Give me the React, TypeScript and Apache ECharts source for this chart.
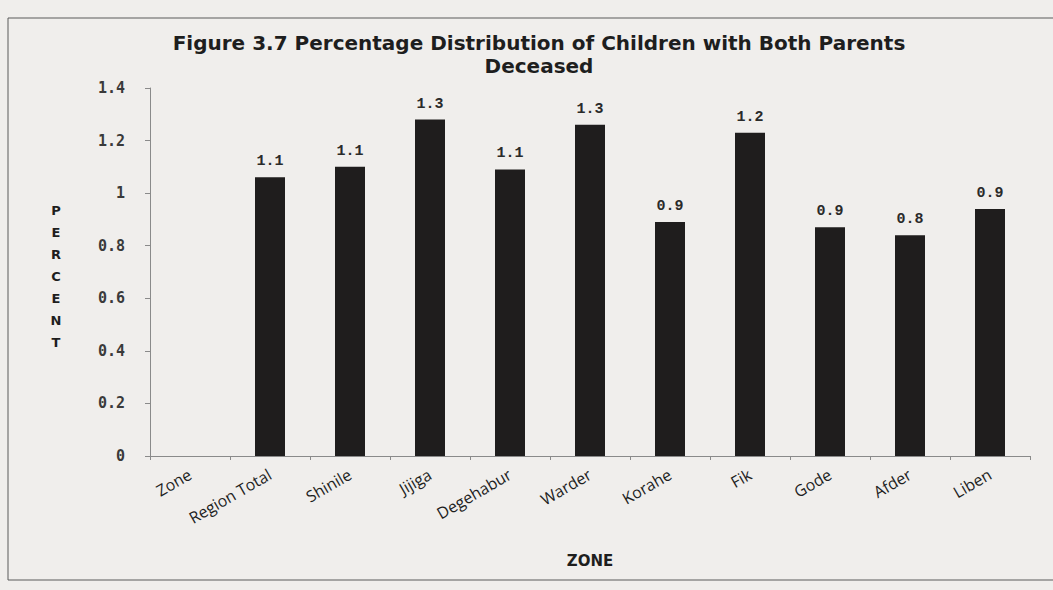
import React, { useEffect, useRef } from "react";
import * as echarts from "echarts";

const categories = ["Zone", "Region Total", "Shinile", "Jijiga", "Degehabur", "Warder", "Korahe", "Fik", "Gode", "Afder", "Liben"];
const percentValues: (number | null)[] = [null, 1.06, 1.1, 1.28, 1.09, 1.26, 0.89, 1.23, 0.87, 0.84, 0.94];
const titleLines = ["Figure 3.7 Percentage Distribution of Children with Both Parents", "Deceased"];
const yAxisTitle = "PERCENT";
const xAxisTitle = "ZONE";

export default function App() {
  const ref = useRef<HTMLDivElement>(null);
  useEffect(() => {
    if (!ref.current) return;
    const chart = echarts.init(ref.current, null, { renderer: "svg" });
    chart.setOption({
      animation: false,
      backgroundColor: "#f0eeec",
      title: {
        text: titleLines.join("\n"),
        left: 534,
        top: 26,
        textAlign: "center",
        textStyle: {
          fontFamily: "DejaVu Sans",
          fontWeight: "bold",
          fontSize: 20,
          lineHeight: 23,
          color: "#1e1e1e",
        },
      },
      grid: { left: 150, right: 23, top: 88, bottom: 134 },
      xAxis: {
        type: "category",
        data: categories,
        name: xAxisTitle,
        nameLocation: "middle",
        nameGap: 97,
        nameTextStyle: { fontFamily: "DejaVu Sans", fontWeight: "bold", fontSize: 15, color: "#1e1e1e" },
        axisLine: { lineStyle: { color: "#8a8a8a", width: 1 } },
        axisTick: { show: true, length: 4, lineStyle: { color: "#8a8a8a" } },
        axisLabel: {
          rotate: 30,
          margin: 17,
          fontFamily: "Open Sans",
          fontSize: 16,
          color: "#1e1e1e",
        },
      },
      yAxis: {
        type: "value",
        min: 0,
        max: 1.4,
        interval: 0.2,
        splitLine: { show: false },
        axisLine: { show: true, lineStyle: { color: "#8a8a8a", width: 1 } },
        axisTick: { show: true, length: 5, lineStyle: { color: "#8a8a8a" } },
        axisLabel: {
          margin: 25,
          fontFamily: "DejaVu Sans Mono",
          fontSize: 15,
          fontWeight: "bold",
          color: "#3a3a3a",
        },
      },
      series: [
        {
          type: "bar",
          data: percentValues,
          barWidth: 30,
          itemStyle: { color: "#1f1d1d" },
          label: {
            show: true,
            position: "top",
            distance: 8,
            formatter: (p: any) => (p.value == null ? "" : Number(p.value).toFixed(1)),
            fontFamily: "Liberation Mono",
            fontWeight: "bold",
            fontSize: 15,
            color: "#2a2a2a",
          },
        },
      ],
      graphic: [
        {
          type: "rect",
          shape: { x: 8, y: 18, width: 1100, height: 562 },
          style: { fill: "none", stroke: "#5a5a5a", lineWidth: 1 },
          silent: true,
        },
        {
          type: "text",
          x: 56,
          y: 276,
          style: {
            text: yAxisTitle.split("").join("\n"),
            fontFamily: "DejaVu Sans",
            fontWeight: "bold",
            fontSize: 13,
            lineHeight: 22,
            fill: "#1e1e1e",
            align: "center",
            verticalAlign: "middle",
          },
        },
      ],
    });
    return () => chart.dispose();
  }, []);
  return <div ref={ref} style={{ position: "absolute", left: 0, top: 0, width: 1053, height: 590 }} />;
}
